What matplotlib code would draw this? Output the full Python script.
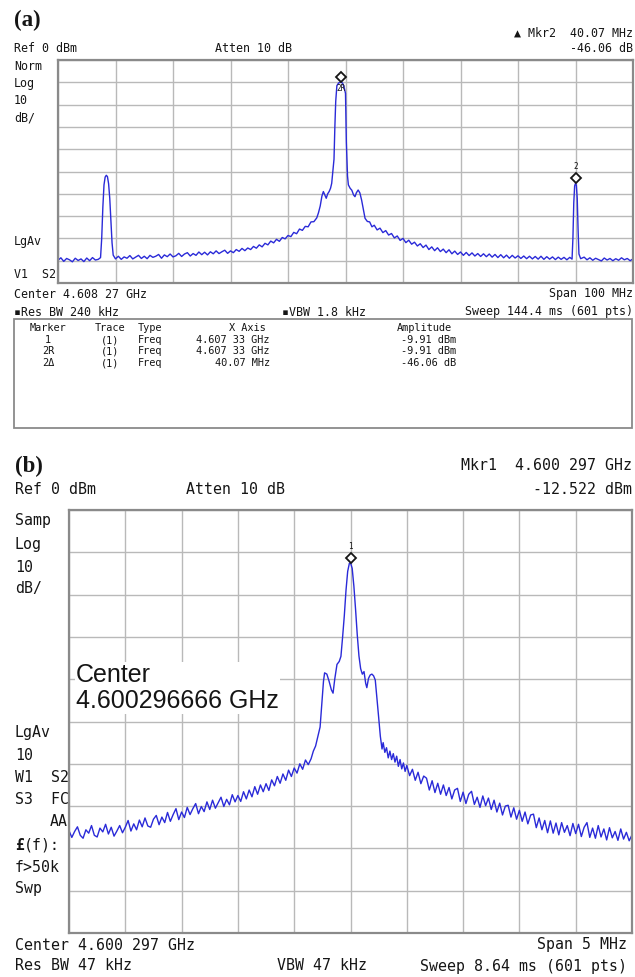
import numpy as np
import matplotlib
matplotlib.use("Agg")
import matplotlib.pyplot as plt
from matplotlib.patches import Rectangle
from matplotlib.transforms import offset_copy

# ---- panel (a): 100 MHz span around 4.608 27 GHz; (offset MHz, level dBm)
a_trace = [
    (-50.0, -89.8), (-49.5, -88.7), (-49.0, -90.3), (-48.5, -89.0), (-48.0, -89.6),
    (-47.5, -90.5), (-47.0, -88.9), (-46.5, -89.9), (-46.0, -89.2), (-45.5, -90.4),
    (-45.0, -88.8), (-44.5, -90.0), (-44.0, -88.6), (-43.5, -89.7), (-43.0, -89.4),
    (-42.6, -88.6), (-42.4, -80.0), (-42.2, -66.0), (-42.0, -56.0), (-41.8, -52.5),
    (-41.6, -51.7), (-41.4, -52.3), (-41.2, -55.5), (-41.0, -62.0), (-40.8, -72.0),
    (-40.6, -82.0), (-40.4, -87.5), (-40.0, -89.2), (-39.5, -88.0), (-39.0, -89.4),
    (-38.5, -88.3), (-38.0, -88.9), (-37.5, -87.7), (-37.0, -89.2), (-36.5, -88.4),
    (-36.0, -87.6), (-35.5, -89.0), (-35.0, -88.0), (-34.5, -89.1), (-34.0, -87.6),
    (-33.5, -88.5), (-33.0, -88.0), (-32.5, -87.2), (-32.0, -88.9), (-31.5, -87.4),
    (-31.0, -88.2), (-30.5, -87.0), (-30.0, -88.3), (-29.5, -87.8), (-29.0, -86.7),
    (-28.5, -88.1), (-28.0, -87.0), (-27.5, -86.4), (-27.0, -87.9), (-26.5, -86.8),
    (-26.0, -87.6), (-25.5, -86.1), (-25.0, -87.3), (-24.5, -86.2), (-24.0, -87.4),
    (-23.5, -86.0), (-23.0, -86.9), (-22.5, -85.6), (-22.0, -86.8), (-21.5, -86.0),
    (-21.0, -85.3), (-20.5, -86.7), (-20.0, -85.6), (-19.5, -86.4), (-19.0, -85.0),
    (-18.5, -85.8), (-18.0, -84.5), (-17.5, -85.5), (-17.0, -84.3), (-16.5, -85.0),
    (-16.0, -83.6), (-15.5, -84.4), (-15.0, -82.9), (-14.5, -83.8), (-14.0, -82.2),
    (-13.5, -82.9), (-13.0, -81.2), (-12.5, -82.0), (-12.0, -80.4), (-11.5, -81.3),
    (-11.0, -79.6), (-10.5, -80.2), (-10.0, -78.7), (-9.5, -79.2), (-9.0, -77.3),
    (-8.5, -77.9), (-8.0, -75.8), (-7.5, -76.4), (-7.0, -74.6), (-6.5, -74.8),
    (-6.0, -72.6), (-5.5, -72.5), (-5.0, -70.8), (-4.7, -68.5), (-4.4, -65.5),
    (-4.1, -61.0), (-3.85, -59.0), (-3.6, -60.5), (-3.35, -62.0), (-3.1, -60.0),
    (-2.85, -59.0), (-2.6, -57.5), (-2.4, -55.3), (-2.2, -50.0), (-2.0, -44.5),
    (-1.85, -30.0), (-1.7, -18.5), (-1.5, -11.5), (-1.2, -10.3), (-0.8, -9.9),
    (-0.5, -10.4), (-0.2, -12.6), (0.0, -15.0), (0.15, -37.0), (0.35, -52.0),
    (0.5, -56.0), (0.8, -57.5), (1.1, -58.4), (1.4, -60.5), (1.65, -61.3),
    (1.9, -59.5), (2.2, -58.3), (2.5, -59.6), (2.8, -62.8), (3.1, -67.0),
    (3.4, -71.0), (3.8, -72.4), (4.2, -72.6), (4.6, -74.8), (5.0, -74.1),
    (5.5, -76.2), (6.0, -75.4), (6.5, -77.4), (7.0, -76.5), (7.5, -78.5),
    (8.0, -77.8), (8.5, -79.8), (9.0, -78.9), (9.5, -80.9), (10.0, -80.0),
    (10.5, -81.9), (11.0, -80.8), (11.5, -82.6), (12.0, -81.7), (12.5, -83.4),
    (13.0, -82.4), (13.5, -84.1), (14.0, -83.0), (14.5, -85.0), (15.0, -83.8),
    (15.5, -85.5), (16.0, -84.2), (16.5, -85.9), (17.0, -84.8), (17.5, -86.4),
    (18.0, -85.1), (18.5, -86.9), (19.0, -85.7), (19.5, -87.2), (20.0, -86.1),
    (20.5, -87.6), (21.0, -86.3), (21.5, -87.7), (22.0, -86.5), (22.5, -87.9),
    (23.0, -86.8), (23.5, -88.1), (24.0, -86.9), (24.5, -88.2), (25.0, -87.0),
    (25.5, -88.4), (26.0, -87.2), (26.5, -88.6), (27.0, -87.3), (27.5, -88.7),
    (28.0, -87.5), (28.5, -88.9), (29.0, -87.6), (29.5, -88.8), (30.0, -87.8),
    (30.5, -89.0), (31.0, -87.9), (31.5, -89.1), (32.0, -88.0), (32.5, -89.2),
    (33.0, -88.1), (33.5, -89.3), (34.0, -88.0), (34.5, -89.4), (35.0, -88.2),
    (35.5, -89.3), (36.0, -88.3), (36.5, -89.5), (37.0, -88.4), (37.5, -89.4),
    (38.0, -88.5), (38.5, -89.6), (39.0, -88.5), (39.4, -89.3), (39.55, -80.0),
    (39.7, -64.0), (39.85, -56.5), (40.0, -55.3), (40.15, -56.2), (40.3, -62.0),
    (40.45, -76.0), (40.6, -87.0), (40.9, -89.1), (41.5, -88.4), (42.0, -89.6),
    (42.5, -88.7), (43.0, -89.8), (43.5, -88.9), (44.0, -89.5), (44.5, -90.1),
    (45.0, -88.8), (45.5, -89.7), (46.0, -89.0), (46.5, -90.0), (47.0, -89.1),
    (47.5, -89.8), (48.0, -88.7), (48.5, -89.6), (49.0, -89.0), (49.5, -90.0),
    (50.0, -89.2),
]
a_markers = [(-0.8, -9.9, "2R", -1), (40.0, -55.3, "2", 1)]

# ---- panel (b): 5 MHz span around 4.600 297 GHz
b_trace = [
    (-2.500, -75.8), (-2.475, -77.4), (-2.450, -76.0), (-2.425, -74.9), (-2.400, -76.9),
    (-2.375, -77.6), (-2.350, -75.6), (-2.325, -76.4), (-2.300, -74.6), (-2.275, -76.9),
    (-2.250, -77.3), (-2.225, -75.2), (-2.200, -76.1), (-2.175, -74.3), (-2.150, -76.6),
    (-2.125, -75.0), (-2.100, -77.1), (-2.075, -75.9), (-2.050, -74.6), (-2.025, -76.3),
    (-2.000, -75.0), (-1.975, -73.4), (-1.950, -75.9), (-1.925, -74.2), (-1.900, -75.6),
    (-1.875, -73.3), (-1.850, -74.9), (-1.825, -72.8), (-1.800, -74.7), (-1.775, -75.0),
    (-1.750, -73.1), (-1.725, -72.2), (-1.700, -74.4), (-1.675, -72.6), (-1.650, -73.9),
    (-1.625, -71.5), (-1.600, -73.6), (-1.575, -72.0), (-1.550, -70.6), (-1.525, -73.2),
    (-1.500, -71.4), (-1.475, -72.7), (-1.450, -70.3), (-1.425, -72.0), (-1.400, -70.6),
    (-1.375, -69.4), (-1.350, -71.8), (-1.325, -70.1), (-1.300, -71.3), (-1.275, -69.0),
    (-1.250, -70.8), (-1.225, -68.6), (-1.200, -70.5), (-1.175, -69.2), (-1.150, -67.9),
    (-1.125, -70.1), (-1.100, -68.4), (-1.075, -69.7), (-1.050, -67.3), (-1.025, -69.0),
    (-1.000, -67.5), (-0.975, -68.9), (-0.950, -66.6), (-0.925, -68.3), (-0.900, -66.2),
    (-0.875, -67.8), (-0.850, -65.4), (-0.825, -67.2), (-0.800, -65.0), (-0.775, -66.6),
    (-0.750, -64.7), (-0.725, -66.3), (-0.700, -63.8), (-0.675, -65.2), (-0.650, -63.0),
    (-0.625, -64.6), (-0.600, -62.4), (-0.575, -63.9), (-0.550, -61.5), (-0.525, -63.0),
    (-0.500, -61.0), (-0.475, -62.2), (-0.450, -60.0), (-0.425, -61.3), (-0.400, -59.1),
    (-0.375, -60.2), (-0.350, -58.8), (-0.330, -57.0), (-0.310, -55.8), (-0.290, -53.5),
    (-0.270, -51.3), (-0.255, -46.0), (-0.240, -40.5), (-0.230, -38.5), (-0.210, -38.8),
    (-0.190, -40.5), (-0.170, -42.5), (-0.155, -43.3), (-0.140, -40.0), (-0.120, -36.5),
    (-0.100, -35.8), (-0.085, -34.6), (-0.070, -30.0), (-0.055, -25.0), (-0.040, -19.0),
    (-0.025, -14.5), (-0.010, -12.6), (0.000, -12.5), (0.015, -13.8), (0.030, -18.0),
    (0.045, -23.5), (0.060, -29.5), (0.075, -34.5), (0.090, -37.5), (0.105, -38.8),
    (0.120, -38.2), (0.135, -41.0), (0.145, -42.0), (0.160, -39.8), (0.175, -39.0),
    (0.190, -38.8), (0.205, -39.2), (0.220, -40.2), (0.235, -44.5), (0.250, -49.0),
    (0.265, -53.5), (0.280, -56.5), (0.290, -55.0), (0.305, -57.3), (0.320, -56.2),
    (0.335, -58.6), (0.350, -57.0), (0.365, -59.0), (0.380, -57.6), (0.395, -59.6),
    (0.410, -58.2), (0.425, -60.6), (0.440, -59.0), (0.455, -61.2), (0.470, -59.8),
    (0.485, -61.8), (0.500, -60.4), (0.525, -62.8), (0.550, -61.3), (0.575, -63.9),
    (0.600, -62.0), (0.625, -64.7), (0.650, -62.9), (0.675, -63.4), (0.700, -66.2),
    (0.725, -64.0), (0.750, -66.8), (0.775, -64.6), (0.800, -67.2), (0.825, -65.0),
    (0.850, -67.5), (0.875, -65.6), (0.900, -68.3), (0.925, -66.2), (0.950, -65.8),
    (0.975, -68.9), (1.000, -66.7), (1.025, -69.4), (1.050, -67.2), (1.075, -66.5),
    (1.100, -69.6), (1.125, -67.9), (1.150, -70.3), (1.175, -67.6), (1.200, -69.9),
    (1.225, -68.1), (1.250, -70.8), (1.275, -68.6), (1.300, -71.4), (1.325, -69.3),
    (1.350, -72.1), (1.375, -70.0), (1.400, -69.8), (1.425, -72.6), (1.450, -70.4),
    (1.475, -73.1), (1.500, -71.0), (1.525, -73.6), (1.550, -71.4), (1.575, -74.2),
    (1.600, -72.1), (1.625, -71.9), (1.650, -75.1), (1.675, -72.8), (1.700, -75.6),
    (1.725, -73.4), (1.750, -76.3), (1.775, -73.5), (1.800, -76.4), (1.825, -74.0),
    (1.850, -76.8), (1.875, -73.9), (1.900, -76.2), (1.925, -74.6), (1.950, -77.0),
    (1.975, -74.1), (2.000, -76.5), (2.025, -74.3), (2.050, -77.2), (2.075, -75.0),
    (2.100, -73.9), (2.125, -77.4), (2.150, -75.2), (2.175, -77.6), (2.200, -74.6),
    (2.225, -77.3), (2.250, -75.4), (2.275, -78.0), (2.300, -75.1), (2.325, -77.5),
    (2.350, -76.0), (2.375, -78.1), (2.400, -75.4), (2.425, -77.8), (2.450, -76.2),
    (2.475, -78.2), (2.500, -76.8),
]
b_markers = [(0.0, -12.5, "1", 1)]

table_cols = ["Marker", "Trace", "Type", "X Axis", "Amplitude"]
table_rows = [["1", "(1)", "Freq", "4.607 33 GHz", "-9.91 dBm"],
              ["2R", "(1)", "Freq", "4.607 33 GHz", "-9.91 dBm"],
              ["2\u0394", "(1)", "Freq", "40.07 MHz", "-46.06 dB"]]

W, H = 635, 977
fig = plt.figure(figsize=(W / 100, H / 100), dpi=100)
mono = ["DejaVu Sans Mono", "DejaVu Sans"]
ink = "#151515"
trace_col = "#2a2ad8"


def txt(x, y, s, size, ha="left", **kw):
    # x, y in pixels from top-left of the page
    kw.setdefault("family", mono)
    fig.text(x / W, 1 - y / H, s, fontsize=size, ha=ha, va="center", color=ink, **kw)


def screen(ax, span):
    ax.set_xlim(-span, span)
    ax.set_ylim(-100, 0)
    ax.set_xticks(np.linspace(-span, span, 11))
    ax.set_yticks(np.arange(-100, 1, 10))
    ax.grid(True, color="#b9b9b9", lw=1.0)
    ax.tick_params(length=0, labelbottom=False, labelleft=False)
    for s in ax.spines.values():
        s.set_color("#8a8a8a")
        s.set_linewidth(1.6)


def markers(ax, mk, size):
    up = offset_copy(ax.transData, fig=fig, y=3.6, units="points")
    for f, lv, name, side in mk:
        ax.plot([f], [lv], marker="D", ms=5.5, mfc="white", mec=ink, mew=1.3,
                transform=up, zorder=5)
        ax.annotate(name, (f, lv), xytext=(0, 3.6 + side * 8.5), textcoords="offset points",
                    ha="center", va="center", fontsize=size, color=ink, family=mono, zorder=6)


# ---------------- (a)
ax_a = fig.add_axes([58 / W, 1 - 283 / H, 575 / W, 223 / H])
screen(ax_a, 50)
a_freq, a_level = zip(*a_trace)
ax_a.plot(a_freq, a_level, color=trace_col, lw=1.0)
markers(ax_a, a_markers, 5.5)

fa = 8.4
txt(14, 20, "(a)", 16.5, family="Liberation Serif", fontweight="bold")
txt(633, 33, "\u25b2 Mkr2  40.07 MHz", fa, ha="right")
txt(14, 48, "Ref 0 dBm", fa)
txt(215, 48, "Atten 10 dB", fa)
txt(633, 48, "-46.06 dB", fa, ha="right")
for yy, s in [(66, "Norm"), (84, "Log"), (101, "10"), (118, "dB/"), (242, "LgAv"), (275, "V1  S2")]:
    txt(14, yy, s, fa)
txt(14, 294, "Center 4.608 27 GHz", fa)
txt(633, 294, "Span 100 MHz", fa, ha="right")
txt(14, 312, "\u25aaRes BW 240 kHz", fa)
txt(282, 312, "\u25aaVBW 1.8 kHz", fa)
txt(633, 312, "Sweep 144.4 ms (601 pts)", fa, ha="right")

fig.patches.append(Rectangle((14 / W, 1 - 428 / H), 618 / W, 109 / H, transform=fig.transFigure,
                             fill=False, ec="#8a8a8a", lw=1.3))
ft = 7.4
col_x = [48, 110, 150, 247, 424]
for cx, s in zip(col_x, table_cols):
    txt(cx, 328, s, ft, ha="center")
for i, row in enumerate(table_rows):
    yy = 340 + i * 11.5
    txt(col_x[0], yy, row[0], ft, ha="center")
    txt(col_x[1], yy, row[1], ft, ha="center")
    txt(col_x[2], yy, row[2], ft, ha="center")
    txt(270, yy, row[3], ft, ha="right")
    txt(401, yy, row[4], ft)

# ---------------- (b)
ax_b = fig.add_axes([69 / W, 1 - 933 / H, 563 / W, 423 / H])
screen(ax_b, 2.5)
b_freq, b_level = zip(*b_trace)
ax_b.plot(b_freq, b_level, color=trace_col, lw=1.0)
markers(ax_b, b_markers, 5.5)

fb = 10.7
txt(15, 466, "(b)", 16.5, family="Liberation Serif", fontweight="bold")
txt(632, 466, "Mkr1  4.600 297 GHz", fb, ha="right")
txt(15, 490, "Ref 0 dBm", fb)
txt(186, 490, "Atten 10 dB", fb)
txt(632, 490, "-12.522 dBm", fb, ha="right")
for yy, s in [(521, "Samp"), (544, "Log"), (567, "10"), (589, "dB/"), (733, "LgAv"), (755, "10"),
              (778, "W1  S2"), (800, "S3  FC"), (867, "f>50k"), (888, "Swp")]:
    txt(15, yy, s, fb)
txt(68, 822, "AA", fb, ha="right")
txt(15, 845, "\u00a3", fb, fontweight="bold")
txt(24, 845, "(f):", fb)
txt(15, 945, "Center 4.600 297 GHz", fb)
txt(627, 945, "Span 5 MHz", fb, ha="right")
txt(15, 966, "Res BW 47 kHz", fb)
txt(277, 966, "VBW 47 kHz", fb)
txt(627, 966, "Sweep 8.64 ms (601 pts)", fb, ha="right")

txt(76, 688, "Center\n4.600296666 GHz", 18, family=["Liberation Sans", "DejaVu Sans"],
    linespacing=1.1, bbox=dict(fc="white", ec="none", pad=1.0))

fig.savefig("out.png", dpi=100)
